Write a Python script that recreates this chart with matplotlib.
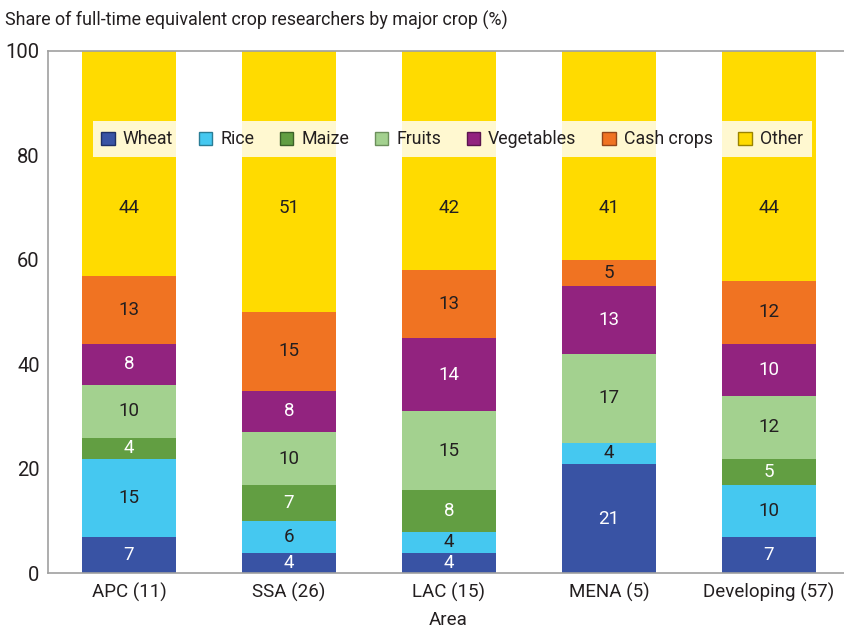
import matplotlib
matplotlib.use("Agg")
import matplotlib.pyplot as plt
from matplotlib.patches import Patch

plt.rcParams["font.family"] = ["Roboto", "Liberation Sans", "DejaVu Sans"]

# Share of FTE crop researchers (%) per area, one list per crop
areas = ["APC (11)", "SSA (26)", "LAC (15)", "MENA (5)", "Developing (57)"]
wheat = [7, 4, 4, 21, 7]
rice = [15, 6, 4, 4, 10]
maize = [4, 7, 8, 0, 5]
fruits = [10, 10, 15, 17, 12]
vegetables = [8, 8, 14, 13, 10]
cash_crops = [13, 15, 13, 5, 12]
other = [44, 51, 42, 41, 44]

crops = ["Wheat", "Rice", "Maize", "Fruits", "Vegetables", "Cash crops", "Other"]
series = [wheat, rice, maize, fruits, vegetables, cash_crops, other]
colors = ["#3953a4", "#45c8f0", "#629e42", "#a3d18f", "#92237f", "#f07322", "#ffdb00"]
edge_colors = ["#1f2f66", "#2a7d96", "#3c6128", "#6c8f5c", "#5a154e", "#94461a", "#9a8400"]
text_colors = ["white", "#231f20", "white", "#231f20", "white", "#231f20", "#231f20"]
ink = "#231f20"

fig = plt.figure(figsize=(8.45, 6.3), dpi=100)
ax = fig.add_axes([0.0568, 0.0897, 0.9432, 0.8295])

x = list(range(len(areas)))
bottom = [0] * len(areas)
for name, vals, col, tcol in zip(crops, series, colors, text_colors):
    ax.bar(x, vals, width=0.5875, bottom=bottom, color=col, linewidth=0, zorder=2)
    for i, v in enumerate(vals):
        if v <= 0:
            continue
        # the "Other" values sit at a fixed height under the legend
        ypos = 70 if name == "Other" else bottom[i] + v / 2
        ax.text(x[i], ypos, str(v), ha="center", va="center",
                fontsize=13.5, color=tcol, zorder=4)
    bottom = [b + v for b, v in zip(bottom, vals)]

ax.set_ylim(0, 100)
ax.set_xlim(-0.506, 4.475)
ax.set_xticks(x)
ax.set_xticklabels(areas, fontsize=13.5, color=ink)
ax.tick_params(axis="x", length=0, pad=7)
ax.set_yticks([0, 20, 40, 60, 80, 100])
ax.tick_params(axis="y", direction="in", length=14.4, width=1.3, color=ink,
               labelsize=14.5, labelcolor=ink, pad=6)
for t in ax.yaxis.get_major_ticks():
    if t.get_loc() in (0, 100):
        t.tick1line.set_visible(False)

for side in ("left", "bottom", "top"):
    ax.spines[side].set_color("#a0a0a0")
    ax.spines[side].set_linewidth(1.2)
ax.spines["right"].set_visible(False)

handles = [Patch(facecolor=c, edgecolor=e, linewidth=1) for c, e in zip(colors, edge_colors)]
leg = ax.legend(handles, crops, ncol=7, loc="center", bbox_to_anchor=(0.507, 0.831),
                frameon=True, fontsize=12.8, handlelength=0.75, handleheight=0.75,
                handletextpad=0.45, columnspacing=1.45, borderpad=0.5,
                borderaxespad=0, fancybox=False)
for txt in leg.get_texts():
    txt.set_color(ink)
leg.get_frame().set_facecolor("white")
leg.get_frame().set_alpha(0.82)
leg.get_frame().set_linewidth(0)
leg.set_zorder(3)

fig.text(0.006, 0.968, "Share of full-time equivalent crop researchers by major crop (%)",
         fontsize=12.9, color=ink, ha="left", va="center")
fig.text(0.53, 0.016, "Area", fontsize=13.5, color=ink, ha="center", va="center")

fig.savefig("out.png", dpi=100)
